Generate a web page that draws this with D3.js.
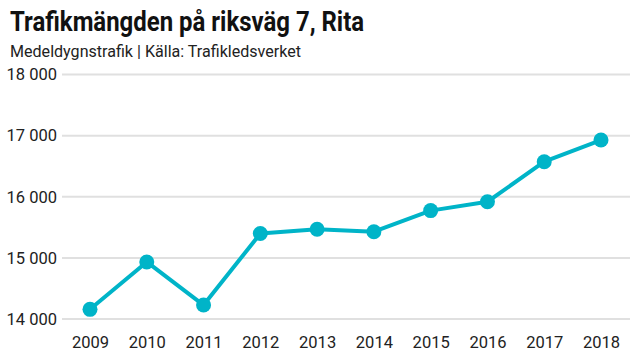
<!DOCTYPE html>
<html><head><meta charset="utf-8">
<script src="https://cdn.jsdelivr.net/npm/d3@7"></script>
<style>body{margin:0;background:#fff}svg{display:block}</style>
</head><body><svg id="c" width="640" height="360"></svg>
<script>
const years = ["2009","2010","2011","2012","2013","2014","2015","2016","2017","2018"];
const traffic = [14150,14925,14220,15390,15460,15420,15765,15910,16565,16920];
const yTicks = [14000,15000,16000,17000,18000];
const title = "Trafikmängden på riksväg 7, Rita";
const subtitle = "Medeldygnstrafik | Källa: Trafikledsverket";

const svg = d3.select("#c");
const color = "#00b4c8";
const font = "'Roboto',sans-serif";

svg.append("text").attr("transform","translate(10,31) scale(0.887,1)").text(title)
  .attr("font-family",font).attr("font-weight","bold").attr("font-size",27).attr("fill","#111");
svg.append("text").attr("transform","translate(10,57) scale(0.975,1)").text(subtitle)
  .attr("font-family",font).attr("font-size",16.5).attr("fill","#222");

const x = d3.scalePoint().domain(years).range([90,601]);
const y = d3.scaleLinear().domain([14000,18000]).range([318.5,74]);
const fmt = d => d3.format(",")(d).replace(",", " ");

const yAxis = svg.append("g").attr("transform","translate(62,0)")
  .call(d3.axisLeft(y).tickValues(yTicks).tickFormat(fmt).tickSize(-568).tickPadding(5));
yAxis.select(".domain").remove();
yAxis.selectAll("line").attr("stroke","#e0e0e0").attr("stroke-width",2);
yAxis.selectAll("text").attr("font-family",font).attr("font-size",16.5).attr("fill","#222").attr("dy","0.35em");

const xAxis = svg.append("g").attr("transform","translate(0,330)")
  .call(d3.axisBottom(x).tickSize(0).tickPadding(6));
xAxis.select(".domain").remove();
xAxis.selectAll("text").attr("font-family",font).attr("font-size",16.5).attr("fill","#222");

const data = years.map((yr,i)=>({yr, v: traffic[i]}));
svg.append("path").datum(data)
  .attr("d", d3.line().x(d=>x(d.yr)).y(d=>y(d.v)))
  .attr("fill","none").attr("stroke",color).attr("stroke-width",4).attr("stroke-linejoin","round");
svg.selectAll("circle.pt").data(data).join("circle").attr("class","pt")
  .attr("cx",d=>x(d.yr)).attr("cy",d=>y(d.v)).attr("r",7.5).attr("fill",color);
</script></body></html>
